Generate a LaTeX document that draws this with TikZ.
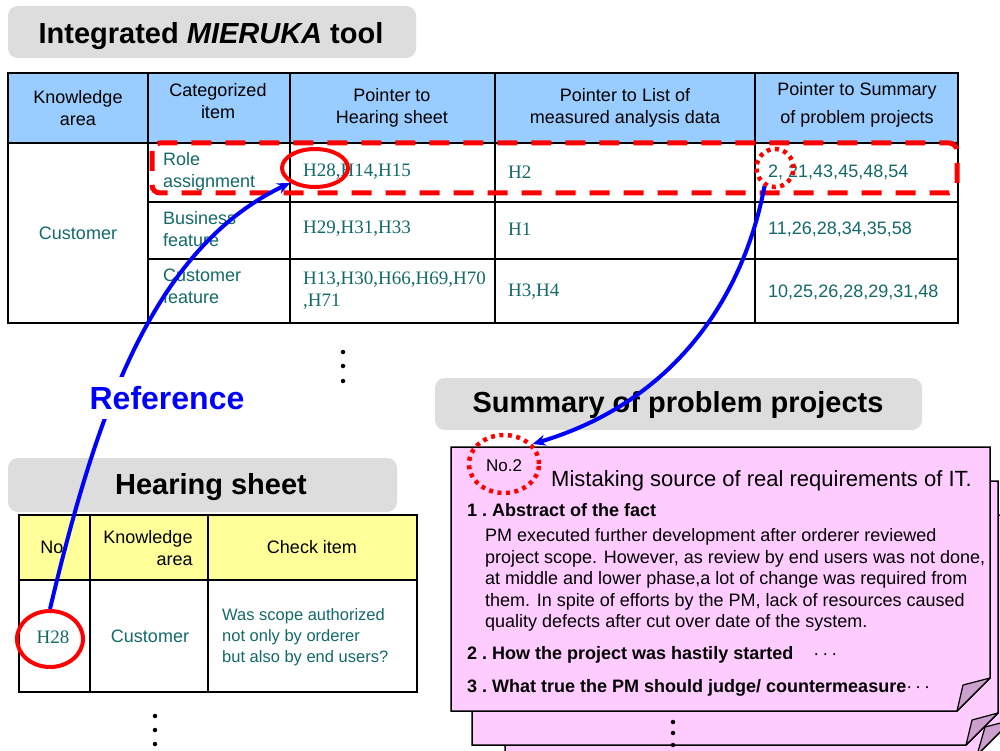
\documentclass[tikz,border=0pt]{standalone}
\usepackage{fontspec}
\setmainfont{Liberation Sans}
\newfontfamily\serifnum{Liberation Serif}
\usetikzlibrary{shapes.geometric,arrows.meta}

\definecolor{tealtext}{RGB}{20,105,105}
\definecolor{hdrblue}{RGB}{153,204,255}
\definecolor{hdryellow}{RGB}{255,255,153}
\definecolor{titlegray}{RGB}{221,221,221}
\definecolor{pagepink}{RGB}{255,204,255}
\definecolor{foldmauve}{RGB}{204,160,204}
\definecolor{markred}{RGB}{255,0,0}
\definecolor{refblue}{RGB}{0,0,255}

\begin{document}
\begin{tikzpicture}[x=1pt,y=-1pt,
  titlebox/.style={fill=titlegray, rounded corners=10pt},
  titletext/.style={font=\fontsize{29}{34}\selectfont\bfseries, inner sep=0pt},
  grid/.style={line width=2.5pt, line cap=rect},
  hdr/.style={font=\fontsize{18}{22}\selectfont, align=center, inner sep=0pt},
  cell/.style={font=\fontsize{18}{22}\selectfont, text=tealtext, align=left, inner sep=0pt, anchor=west},
  hcell/.style={font=\serifnum\fontsize{19}{22}\selectfont, text=tealtext, align=left, inner sep=0pt, anchor=west},
  ring/.style={ellipse, draw=markred, line width=4pt, inner sep=0pt},
  dotring/.style={ellipse, draw=markred, line width=4.5pt, dash pattern=on 4pt off 4.5pt, inner sep=0pt},
  link/.style={draw=refblue, line width=4pt, -{Stealth[length=13pt,width=11pt]}},
  page/.style={fill=pagepink, draw=black, line width=1.5pt, line join=miter},
  fold/.style={fill=foldmauve, draw=black, line width=1.2pt, line join=round},
  vdot/.style={circle, fill=black, inner sep=0pt, minimum size=4.5pt},
  body/.style={font=\fontsize{18}{21.4}\selectfont, inner sep=0pt, anchor=west, align=left},
  head/.style={font=\fontsize{18}{22}\selectfont\bfseries, inner sep=0pt, anchor=west},
]
\useasboundingbox (0,0) rectangle (1000,751);
\fill[white] (0,0) rectangle (1000,751);

% ---------- stacked problem-project sheets ----------
\begin{scope}
  \clip (0,0) rectangle (1000,751);
  \draw[page] (505,515) -- (1012,515) -- (1012,720) -- (977,755) -- (505,755) -- cycle;
  \draw[fold] (1012,720) -- (985,727) -- (977,755) -- cycle;
  \draw[page] (472,481) -- (998,481) -- (998,713) -- (966,745) -- (472,745) -- cycle;
  \draw[fold] (998,713) -- (972,720) -- (966,745) -- cycle;
  \draw[page] (451,447) -- (990,447) -- (990,678) -- (957,711) -- (451,711) -- cycle;
  \draw[fold] (990,678) -- (963,685) -- (957,711) -- cycle;
\end{scope}
\node[vdot] (pd1) at (673,722) {};
\node[vdot] (pd2) at (673,733) {};
\node[vdot] (pd3) at (673,745) {};

% ---------- title boxes ----------
\fill[titlebox] (8,6) rectangle (416,58);
\node[titletext] (ttool) at (211,36) {Integrated \textit{MIERUKA} tool};
\fill[titlebox] (8,458) rectangle (397,512);
\node[titletext] (thear) at (211,487) {Hearing sheet};
\fill[titlebox] (435,378) rectangle (922,430);
\node[titletext] (tsum) at (678,405) {Summary of problem projects};

% ---------- integrated tool table ----------
\fill[hdrblue] (8,73) rectangle (958,143);
\draw[grid] (8,73) rectangle (958,323);
\draw[grid] (8,143) -- (958,143);
\draw[grid] (148,202) -- (958,202);
\draw[grid] (148,259) -- (958,259);
\foreach \cx in {148,290,495,755} \draw[grid] (\cx,73) -- (\cx,323);

\node[hdr] (hk) at (78,108) {Knowledge\\area};
\node[hdr] (hc) at (218,101) {Categorized\\item};
\node[hdr] (hh) at (392,108) {Pointer to\\Hearing sheet};
\node[hdr] (hl) at (625,108) {Pointer to List of\\measured analysis data};
\node[hdr] (hs) at (857,105) {Pointer to Summary\\[6pt]of problem projects};

\node[cell, anchor=center] (kcust) at (78,233) {Customer};
\node[cell] (c1) at (163,172) {Role\\assignment};
\node[cell] (c2) at (163,229) {Business\\feature};
\node[cell] (c3) at (163,286) {Customer\\feature};
\node[hcell] (h1) at (303,172) {H28,H14,H15};
\node[hcell] (h2) at (303,229) {H29,H31,H33};
\node[hcell] (h3) at (303,291) {H13,H30,H66,H69,H70\\,H71};
\node[hcell] (l1) at (508,172) {H2};
\node[hcell] (l2) at (508,229) {H1};
\node[hcell] (l3) at (508,292) {H3,H4};
\node[cell] (s1) at (768,172) {2, 21,43,45,48,54};
\node[cell] (s2) at (768,229) {11,26,28,34,35,58};
\node[cell] (s3) at (768,292) {10,25,26,28,29,31,48};

\draw[markred, line width=5pt, dash pattern=on 20pt off 14pt, rounded corners=8pt]
  (152,143) rectangle (957,193);

\node[vdot] (td1) at (343,352) {};
\node[vdot] (td2) at (343,366) {};
\node[vdot] (td3) at (343,381) {};

% ---------- hearing sheet table ----------
\fill[hdryellow] (19,515) rectangle (417,580);
\draw[grid] (19,515) rectangle (417,692);
\draw[grid] (19,580) -- (417,580);
\draw[grid] (90,515) -- (90,692);
\draw[grid] (208,515) -- (208,692);
\node[hdr] (hno) at (52,547) {No};
\node[hdr, align=right] (hka) at (148,548) {Knowledge\\area};
\node[hdr] (hci) at (312,547) {Check item};
\node[hcell, anchor=center] (hno28) at (53,637) {H28};
\node[cell, anchor=center] (hcust) at (150,636) {Customer};
\node[cell, font=\fontsize{16.5}{21}\selectfont] (hcheck) at (222,637)
  {Was scope authorized\\not only by  orderer\\but also  by end users?};
\node[vdot] (hd1) at (155,716) {};
\node[vdot] (hd2) at (155,730) {};
\node[vdot] (hd3) at (155,744) {};

% ---------- front sheet contents ----------
\node[inner sep=0pt, font=\fontsize{17}{20}\selectfont] (no2) at (504,466) {No.2};
\node[inner sep=0pt, anchor=west, font=\fontsize{22}{26}\selectfont] (ptitle) at (551,481)
  {Mistaking source of real requirements of IT.};
\node[head] (p1) at (467,510) {1\hspace{5pt}.\hspace{5pt}Abstract of the fact};
\node[body] (ptext) at (485,580)
  {PM executed further development after orderer reviewed\\
   project scope. However, as review by end users was not done,\\
   at middle  and lower phase,a lot of change was required from\\
   them. In spite of efforts by the PM, lack of  resources caused\\
   quality defects after cut over date of the system.};
\node[head] (p2) at (467,655)
  {2\hspace{5pt}.\hspace{5pt}How the project was hastily started\hspace{20pt}{\mdseries ·\hspace{3pt}·\hspace{3pt}·}};
\node[head] (p3) at (467,688)
  {3\hspace{5pt}.\hspace{5pt}What true the PM should judge/ countermeasure{\mdseries ·\hspace{3pt}·\hspace{3pt}·}};

% ---------- markers ----------
\node[ring, minimum width=66pt, minimum height=38pt] (e1) at (315,168) {};
\node[ring, minimum width=66pt, minimum height=56pt] (e2) at (50,639) {};
\node[dotring, minimum width=37pt, minimum height=38pt] (e3) at (775,168) {};
\node[dotring, minimum width=70pt, minimum height=58pt] (e4) at (504,464) {};

% ---------- reference links ----------
\draw[link] (e2.north) .. controls (95,420) and (150,250) .. (e1.south west);
\draw[link] (e3.240) .. controls (745,290) and (680,400) .. (e4.35);

\node[font=\fontsize{32}{36}\selectfont\bfseries, text=refblue, fill=white,
      inner xsep=4pt, inner ysep=9pt] (ref) at (167,398) {Reference};
\end{tikzpicture}
\end{document}
